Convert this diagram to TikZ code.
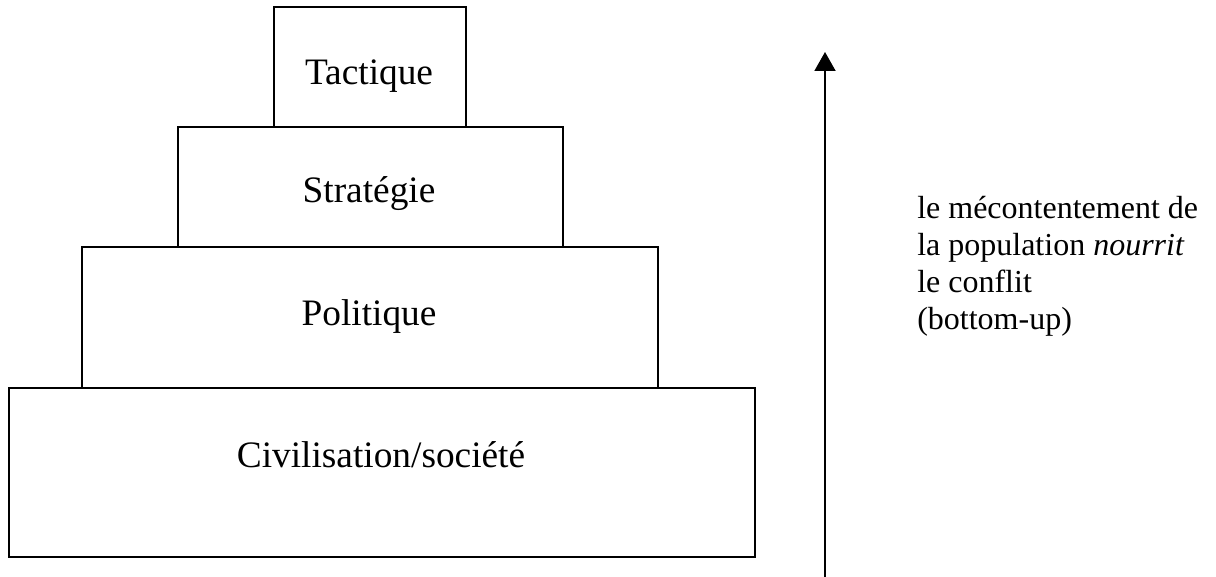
\documentclass[tikz,border=0pt]{standalone}
\usepackage{fontspec}
\setmainfont{Liberation Serif}
\usetikzlibrary{arrows.meta}
\begin{document}
\begin{tikzpicture}[x=0.75pt,y=-0.75pt,
  levelbox/.style={draw, line width=1.4pt, inner sep=0pt, anchor=north west},
  levellabel/.style={anchor=base, inner sep=0pt, font=\fontsize{28pt}{32pt}\selectfont},
  sidetext/.style={anchor=base west, inner sep=0pt, font=\fontsize{24pt}{27.6pt}\selectfont},
  uparrow/.style={line width=1.4pt, -{Triangle[length=14.25pt,width=15.75pt]}}
]
\useasboundingbox (0,0) rectangle (1216,577);
% boxes
\node[levelbox, minimum width=144pt, minimum height=90pt] (tac) at (273,6) {};
\node[levelbox, minimum width=288.75pt, minimum height=90pt] (str) at (177,126) {};
\node[levelbox, minimum width=432pt, minimum height=105.75pt] (pol) at (81,246) {};
\node[levelbox, minimum width=559.5pt, minimum height=126.75pt] (civ) at (8,387) {};
% labels
\node[levellabel] (tacl) at (369,85) {Tactique};
\node[levellabel] (strl) at (369,203) {Stratégie};
\node[levellabel] (poll) at (369,325) {Politique};
\node[levellabel] (civl) at (381,467) {Civilisation/société};
% arrow
\coordinate (abot) at (825,577);
\coordinate (atop) at (825,52);
\draw[uparrow] (abot) -- (atop);
% side text
\node[sidetext] (side) at (917,219) {\parbox[t]{300pt}{\raggedright\fontsize{24pt}{27.6pt}\selectfont le mécontentement de\\ la population \textit{nourrit}\\ le conflit\\ (bottom-up)}};
\end{tikzpicture}
\end{document}
